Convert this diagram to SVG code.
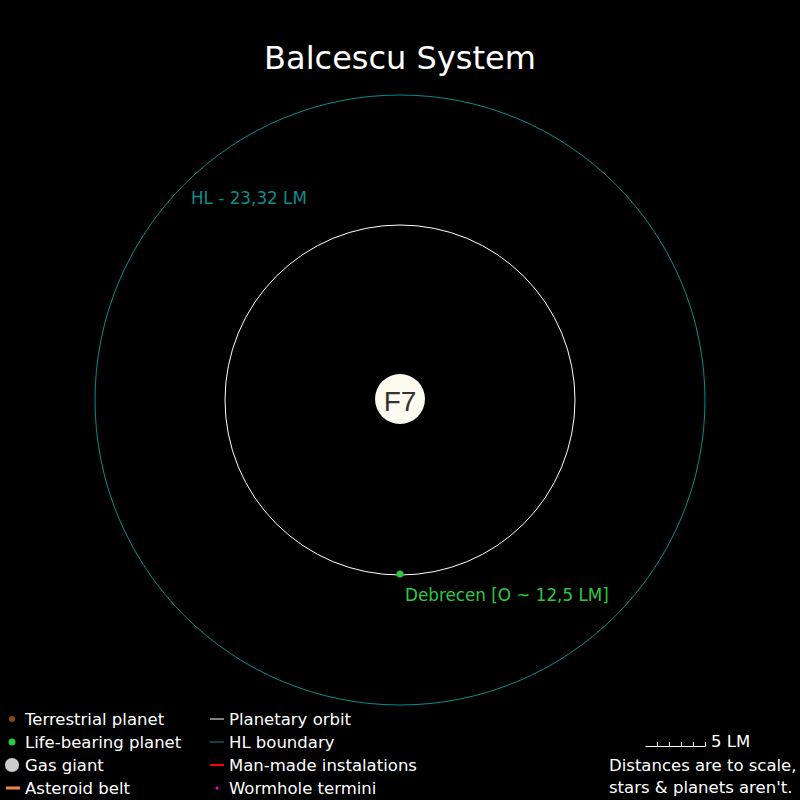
<svg xmlns="http://www.w3.org/2000/svg" width="800" height="800" viewBox="0 0 800 800">
<style>
text{font-family:"DejaVu Sans",sans-serif;}
.lg{font-size:16.5px;fill:#ffffff;}
.orbit{fill:none;stroke:#ffffff;stroke-width:1;}
.hl{fill:none;stroke:#0f8c8c;stroke-width:1;}
</style>
<rect x="0" y="0" width="800" height="800" fill="#000000"/>
<text x="400" y="69" text-anchor="middle" font-size="32" fill="#ffffff">Balcescu System</text>
<g id="connectors">
<circle id="hl-boundary" class="hl" cx="400" cy="400" r="305"/>
<circle id="orbit-debrecen" class="orbit" cx="400" cy="400" r="175"/>
</g>
<g id="hl-label">
<text x="191" y="204" font-size="16.8" fill="#0f8c8c">HL - 23,32 LM</text>
</g>
<g id="star">
<circle cx="400" cy="399" r="25" fill="#fdfaf0"/>
<text x="400" y="411" text-anchor="middle" font-size="28" fill="#333333" style="font-family:'Liberation Sans',sans-serif">F7</text>
</g>
<g id="debrecen">
<circle cx="400" cy="574" r="3.5" fill="#2ec840"/>
<text x="405" y="601" font-size="16.8" fill="#2ec840">Debrecen [O ~ 12,5 LM]</text>
</g>
<g id="legend">
<circle cx="12" cy="719" r="3" fill="#8b4a1a"/>
<text class="lg" x="25" y="725">Terrestrial planet</text>
<circle cx="12" cy="742" r="3.5" fill="#2ec840"/>
<text class="lg" x="25" y="748">Life-bearing planet</text>
<circle cx="12" cy="765" r="7" fill="#cccccc"/>
<text class="lg" x="25" y="771">Gas giant</text>
<line x1="6" y1="788" x2="20" y2="788" stroke="#e8884a" stroke-width="3"/>
<text class="lg" x="25" y="794">Asteroid belt</text>
<line x1="210" y1="719" x2="224" y2="719" stroke="#ffffff" stroke-width="1"/>
<text class="lg" x="229" y="725">Planetary orbit</text>
<line x1="210" y1="742" x2="224" y2="742" stroke="#0f8c8c" stroke-width="1"/>
<text class="lg" x="229" y="748">HL boundary</text>
<line x1="210" y1="765" x2="224" y2="765" stroke="#ff0000" stroke-width="2"/>
<text class="lg" x="229" y="771">Man-made instalations</text>
<circle cx="217" cy="788" r="1.5" fill="#ff00ff"/>
<text class="lg" x="229" y="794">Wormhole termini</text>
</g>
<g id="scale">
<path d="M645.5 746.5 H705.5 M657.5 746.5 V742 M669.5 746.5 V742 M681.5 746.5 V742 M693.5 746.5 V742 M705.5 746.5 V742" fill="none" stroke="#ffffff" stroke-width="1"/>
<text class="lg" x="711" y="747">5 LM</text>
<text class="lg" x="609" y="771">Distances are to scale,</text>
<text class="lg" x="609" y="793">stars &amp; planets aren't.</text>
</g>
</svg>
